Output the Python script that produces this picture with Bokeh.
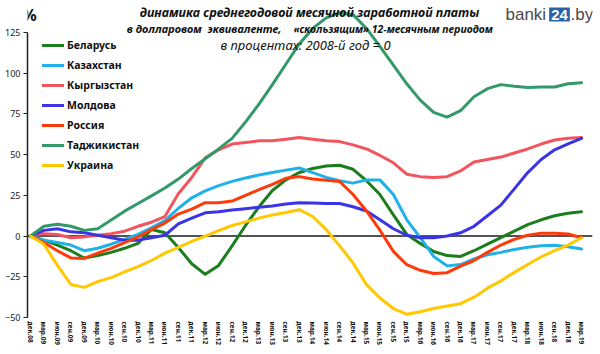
from bokeh.plotting import figure
from bokeh.models import Range1d, FixedTicker, Span, Label, Legend, LegendItem
from bokeh.embed import file_html
from bokeh.resources import INLINE

quarters = ["дек.08", "мар.09", "июн.09", "сен.09", "дек.09", "мар.10", "июн.10", "сен.10", "дек.10",
            "мар.11", "июн.11", "сен.11", "дек.11", "мар.12", "июн.12", "сен.12", "дек.12",
            "мар.13", "июн.13", "сен.13", "дек.13", "мар.14", "июн.14", "сен.14", "дек.14",
            "мар.15", "июн.15", "сен.15", "дек.15", "мар.16", "июн.16", "сен.16", "дек.16",
            "мар.17", "июн.17", "сен.17", "дек.17", "мар.18", "июн.18", "сен.18", "дек.18", "мар.19"]

belarus = [0, -2.5, -5.5, -9, -13.5, -12, -10, -7.5, -4.5, 4, 2, -7, -17, -23.5, -18, -6, 6.5, 18, 28, 34.5,
           39, 41.5, 43, 43.5, 41, 34, 25.5, 13, 1, -4.5, -9.5, -12, -12.5, -9, -5, -1, 3, 7, 10, 12.5, 14, 15]
kazakhstan = [0, -2.5, -4, -5.5, -9, -7.5, -5, -2, 1, 5, 9.5, 17, 23.5, 27.7, 31, 33.6, 35.7, 37.5, 39, 40.5,
              41.8, 39, 36, 34, 32.5, 34.5, 34.5, 25.5, 10, -1, -12.5, -18.3, -17.5, -14, -11.5, -10, -8.2, -6.9,
              -6, -5.7, -6.5, -8]
kyrgyzstan = [0, 1.5, 1, -1, -0.5, 0.5, 1.5, 3, 6, 8.5, 12, 26, 36, 48, 53, 56.5, 57.5, 58.5, 58.5, 59.5,
              60.5, 59.5, 58.5, 58, 56, 53.5, 49.5, 45, 38, 36.5, 36, 36.5, 40, 45.5, 47, 48.5, 51, 53.5, 56.5,
              59, 60, 60.5]
moldova = [0, 3.5, 4.5, 2.6, 2, 0.5, -1, -2.5, -2.5, -1, 0.5, 7.5, 11, 14.3, 15, 16, 16.8, 17.7, 18.5, 19.7,
           20.5, 20.3, 20, 20, 18, 15.4, 10, 4.5, 0.5, -1, -1, 0, 2, 6, 12.5, 19, 29, 39, 47, 53, 56.6, 60]
russia = [0, -4, -9, -13.4, -13.7, -10.5, -7.5, -4, -0.5, 4, 8, 13.5, 16.5, 20.5, 20.5, 21.5, 25, 28.5, 31.8, 35.5,
          36.5, 35, 34.3, 33.5, 25.5, 15.4, 3.6, -9.4, -17.6, -21, -23, -22.5, -18.5, -15, -10, -5.5, -2, 0.5,
          1.8, 1.7, 1.3, -1]
tajikistan = [0, 6, 7.2, 6, 3.5, 4.5, 9.8, 15.3, 20, 24.7, 29.5, 35, 41.5, 47.5, 53.5, 60, 70, 81, 93, 105.5,
              118, 127.5, 134, 137, 136, 127.5, 116.5, 105, 93.5, 83.5, 76, 73, 77, 85.5, 90.5, 93, 92, 91.2,
              91.5, 91.5, 93.5, 94.2]
ukraine = [0, -5, -18, -29.7, -31.5, -28, -25.5, -22, -18.8, -15, -10.5, -7, -3.3, 0, 3.4, 6.5, 8.7, 11, 13, 14.5,
           16.2, 12, 4, -6, -16.5, -29.8, -38, -44.5, -48, -46.5, -44.5, -43, -41.5, -37.5, -32, -27.5, -22.3,
           -17.5, -12.7, -9, -5.5, -1]

series_names = ["Беларусь", "Казахстан", "Кыргызстан", "Молдова", "Россия", "Таджикистан", "Украина"]
series_values = [belarus, kazakhstan, kyrgyzstan, moldova, russia, tajikistan, ukraine]
series_colors = ["#1c7d1c", "#1fb2e8", "#f2555e", "#3a34e6", "#ff3a0a", "#33996a", "#ffc800"]
y_ticks = [-50, -25, 0, 25, 50, 75, 100, 125]

W, H = 600, 354
FL, FR, FT, FB = 27, 592, 5, 317
X0PX, XNPX = 30, 581
n = len(quarters)
xpp = (XNPX - X0PX) / (n - 1)
x_start = -(X0PX - FL) / xpp
x_end = (n - 1) + (FR - XNPX) / xpp
ypp = (317 - 32) / 175.0
y_start = -50
y_end = 125 + (32 - FT) / ypp


def X(px):
    return x_start + (px - FL) / xpp


def Y(py):
    return y_start + (FB - py) / ypp


p = figure(width=W, height=H, output_backend="svg", toolbar_location=None,
           x_range=Range1d(x_start, x_end), y_range=Range1d(y_start, y_end),
           min_border_left=FL, min_border_right=W - FR, min_border_top=FT, min_border_bottom=H - FB)
p.outline_line_color = None
p.grid.visible = False
p.background_fill_color = "white"
p.border_fill_color = "white"

xs = list(range(n))
items = []
for name, vals, col in zip(series_names, series_values, series_colors):
    r = p.line(xs, vals, line_color=col, line_width=3, line_join="round", line_cap="round")
    items.append(LegendItem(label=name, renderers=[r]))

zero = Span(location=0, dimension="width", line_color="#1a1a1a", line_width=1.5, level="underlay")
p.add_layout(zero)

legend = Legend(items=items, location=(15, 144), orientation="vertical",
                glyph_width=22, glyph_height=16, label_height=16, spacing=4,
                padding=0, margin=0, label_standoff=3,
                background_fill_alpha=0, border_line_alpha=0,
                label_text_font="Noto Sans", label_text_font_size="10.5px",
                label_text_font_style="bold", label_text_color="#111111")
p.add_layout(legend)

# x axis
p.xaxis.ticker = FixedTicker(ticks=xs)
p.xaxis.major_label_overrides = {i: q for i, q in enumerate(quarters)}
p.xaxis.major_label_orientation = "vertical"
p.xaxis.axis_line_color = None
p.xaxis.major_tick_line_color = None
p.xaxis.minor_tick_line_color = None
p.xaxis.major_tick_out = 0
p.xaxis.major_tick_in = 0
p.xaxis.major_label_standoff = 4
p.xaxis.major_label_text_font = "Noto Sans"
p.xaxis.major_label_text_font_size = "6.5px"
p.xaxis.major_label_text_font_style = "bold"
p.xaxis.major_label_text_color = "#111111"

# y axis
p.yaxis.ticker = FixedTicker(ticks=y_ticks)
p.yaxis.bounds = (-50, 125)
p.yaxis.axis_line_color = "#222222"
p.yaxis.axis_line_width = 1.5
p.yaxis.major_tick_line_color = "#222222"
p.yaxis.major_tick_out = 4
p.yaxis.major_tick_in = 0
p.yaxis.minor_tick_line_color = None
p.yaxis.major_label_standoff = 3
p.yaxis.major_label_text_font = "Noto Sans"
p.yaxis.major_label_text_font_size = "9px"
p.yaxis.major_label_text_color = "#222222"

# titles
p.add_layout(Label(x=X(29), y=Y(14), text="%", text_font="Noto Sans", text_font_size="16px",
                   text_font_style="bold", text_align="center", text_baseline="middle", text_color="#111111"))
p.add_layout(Label(x=X(309), y=Y(12), text="динамика среднегодовой месячной заработной платы",
                   text_font="Noto Sans", text_font_size="12.5px", text_font_style="bold italic",
                   text_align="center", text_baseline="middle", text_color="#111111"))
p.add_layout(Label(x=X(281), y=Y(28), text="в долларовом\u00a0\u00a0эквиваленте,",
                   text_font="Noto Sans", text_font_size="11px", text_font_style="bold italic",
                   text_align="right", text_baseline="middle", text_color="#111111"))
p.add_layout(Label(x=X(293), y=Y(28), text="«скользящим» 12-месячным периодом",
                   text_font="Noto Sans", text_font_size="10.5px", text_font_style="bold italic",
                   text_align="left", text_baseline="middle", text_color="#111111"))
p.add_layout(Label(x=X(305), y=Y(44), text="в процентах: 2008-й год = 0",
                   text_font="Noto Sans", text_font_size="13px", text_font_style="italic",
                   text_align="center", text_baseline="middle", text_color="#111111"))

# logo
p.add_layout(Label(x=X(505), y=Y(14), text="banki", text_font="Liberation Sans", text_font_size="17px",
                   text_align="left", text_baseline="middle", text_color="#4a4a4a"))
p.add_layout(Label(x=X(559), y=Y(14), text="24", text_font="Liberation Sans", text_font_size="15px",
                   text_font_style="bold", text_align="center", text_baseline="middle", text_color="white",
                   background_fill_color="#2a62a8", padding=(2, 2)))
p.add_layout(Label(x=X(570), y=Y(14), text=".by", text_font="Liberation Sans", text_font_size="17px",
                   text_align="left", text_baseline="middle", text_color="#4a4a4a"))

open("out.html", "w").write(file_html(p, INLINE))
